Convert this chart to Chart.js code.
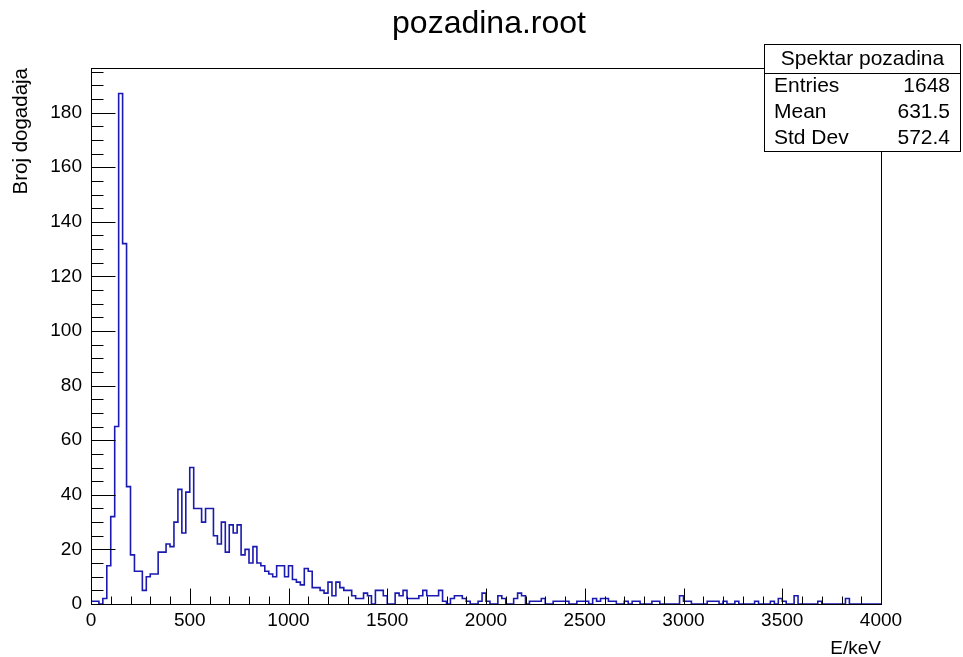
<!DOCTYPE html>
<html><head><meta charset="utf-8">
<script src="https://cdn.jsdelivr.net/npm/chart.js@4/dist/chart.umd.min.js"></script>
<style>html,body{margin:0;padding:0;background:#fff}canvas{display:block}</style>
</head><body>
<canvas id="c" width="963" height="657"></canvas>
<script>
const chartTitle = 'pozadina.root';
const xAxisTitle = 'E/keV';
const yAxisTitle = 'Broj dogadaja';
const histName = 'Spektar pozadina';
const statLabels = ['Entries', 'Mean', 'Std Dev'];
const statValues = ['1648', '631.5', '572.4'];
const xTickLabels = [0, 500, 1000, 1500, 2000, 2500, 3000, 3500, 4000];
const yTickLabels = [0, 20, 40, 60, 80, 100, 120, 140, 160, 180];
const xRange = [0, 4000];
const yRange = [0, 196.35];
const binLow = 0;
const binWidth = 20;
const counts = [
  1, 1, 0, 2, 14, 32, 65, 187, 132, 43,
  18, 12, 12, 5, 10, 11, 11, 19, 19, 22,
  21, 30, 42, 26, 41, 50, 35, 35, 30, 35,
  35, 25, 22, 30, 19, 29, 26, 29, 18, 20,
  15, 21, 15, 14, 12, 11, 10, 14, 14, 10,
  14, 9, 8, 7, 13, 12, 6, 6, 5, 4,
  8, 3, 8, 6, 5, 5, 3, 2, 2, 4,
  3, 0, 5, 5, 3, 0, 0, 4, 3, 5,
  2, 2, 2, 3, 5, 3, 3, 3, 5, 1,
  0, 2, 3, 3, 2, 1, 0, 0, 1, 4,
  1, 0, 0, 3, 2, 0, 0, 2, 4, 3,
  0, 1, 1, 1, 2, 0, 0, 1, 1, 1,
  1, 0, 0, 1, 1, 1, 0, 2, 1, 2,
  2, 1, 1, 0, 0, 1, 0, 1, 1, 0,
  0, 0, 1, 1, 0, 0, 0, 0, 0, 3,
  1, 1, 0, 0, 0, 0, 1, 1, 1, 0,
  1, 0, 0, 1, 0, 0, 0, 0, 1, 0,
  0, 0, 1, 0, 2, 1, 0, 0, 3, 0,
  0, 0, 0, 0, 1, 0, 0, 0, 0, 0,
  0, 2, 0, 0, 0, 0, 0, 0, 0, 0
];

const points = counts.map((c, i) => ({ x: binLow + i * binWidth, y: c }));
points.push({ x: binLow + counts.length * binWidth, y: counts[counts.length - 1] });

const FONT = '"Liberation Sans", Arial, Helvetica, sans-serif';

const rootStyle = {
  id: 'rootStyle',
  afterDraw(chart) {
    const ctx = chart.ctx;
    const xs = chart.scales.x, ys = chart.scales.y;
    const a = chart.chartArea;
    const L = Math.round(a.left) + 0.5, R = Math.round(a.right) + 0.5;
    const T = Math.round(a.top) + 0.5, B = Math.round(a.bottom) + 0.5;
    ctx.save();
    ctx.strokeStyle = '#000';
    ctx.lineWidth = 1;
    ctx.strokeRect(L, T, R - L, B - T);
    ctx.beginPath();
    for (let v = yRange[0]; v <= yRange[1] + 1e-9; v += 5) {
      const py = Math.round(ys.getPixelForValue(v)) + 0.5;
      const major = Math.abs(v % 20) < 1e-9;
      ctx.moveTo(L, py);
      ctx.lineTo(L + (major ? 24 : 12), py);
    }
    for (let v = xRange[0]; v <= xRange[1] + 1e-9; v += 100) {
      const px = Math.round(xs.getPixelForValue(v)) + 0.5;
      const major = Math.abs(v % 500) < 1e-9;
      ctx.moveTo(px, B);
      ctx.lineTo(px, B - (major ? 16 : 8));
    }
    ctx.stroke();
    ctx.fillStyle = '#000';
    ctx.font = '19px ' + FONT;
    ctx.textAlign = 'right';
    ctx.textBaseline = 'middle';
    yTickLabels.forEach(v => ctx.fillText(String(v), a.left - 9, ys.getPixelForValue(v)));
    ctx.textAlign = 'center';
    ctx.textBaseline = 'top';
    xTickLabels.forEach(v => ctx.fillText(String(v), xs.getPixelForValue(v), a.bottom + 7));
    ctx.textAlign = 'right';
    ctx.textBaseline = 'alphabetic';
    ctx.fillText(xAxisTitle, a.right, a.bottom + 50);
    ctx.save();
    ctx.font = '20.5px ' + FONT;
    ctx.translate(27, a.top);
    ctx.rotate(-Math.PI / 2);
    ctx.textAlign = 'right';
    ctx.fillText(yAxisTitle, 0, 0);
    ctx.restore();
    ctx.font = '32px ' + FONT;
    ctx.textAlign = 'center';
    ctx.fillText(chartTitle, 489, 33);
    const bx = 764.5, by = 44.5, bw = 196, bh = 107, sep = 73.5;
    ctx.fillStyle = '#fff';
    ctx.fillRect(bx, by, bw, bh);
    ctx.strokeRect(bx, by, bw, bh);
    ctx.beginPath();
    ctx.moveTo(bx, sep); ctx.lineTo(bx + bw, sep);
    ctx.stroke();
    ctx.fillStyle = '#000';
    ctx.font = '21px ' + FONT;
    ctx.textBaseline = 'middle';
    ctx.textAlign = 'center';
    ctx.fillText(histName, bx + bw / 2, 59);
    const rowsY = [86, 112, 138.5];
    statLabels.forEach((s, i) => {
      ctx.textAlign = 'left';
      ctx.fillText(s, 774, rowsY[i]);
      ctx.textAlign = 'right';
      ctx.fillText(statValues[i], 950, rowsY[i]);
    });
    ctx.restore();
  }
};

new Chart(document.getElementById('c'), {
  type: 'line',
  data: {
    datasets: [{
      label: histName,
      data: points,
      stepped: 'before',
      borderColor: '#1a1ab0',
      borderWidth: 1.6,
      fill: false,
      pointRadius: 0,
      tension: 0
    }]
  },
  options: {
    responsive: false,
    devicePixelRatio: 1,
    animation: false,
    layout: { padding: { left: 91, right: 82, top: 68, bottom: 53 } },
    plugins: { legend: { display: false }, tooltip: { enabled: false }, title: { display: false } },
    scales: {
      x: { type: 'linear', min: xRange[0], max: xRange[1], display: false },
      y: { type: 'linear', min: yRange[0], max: yRange[1], display: false }
    }
  },
  plugins: [rootStyle]
});
</script>
</body></html>
